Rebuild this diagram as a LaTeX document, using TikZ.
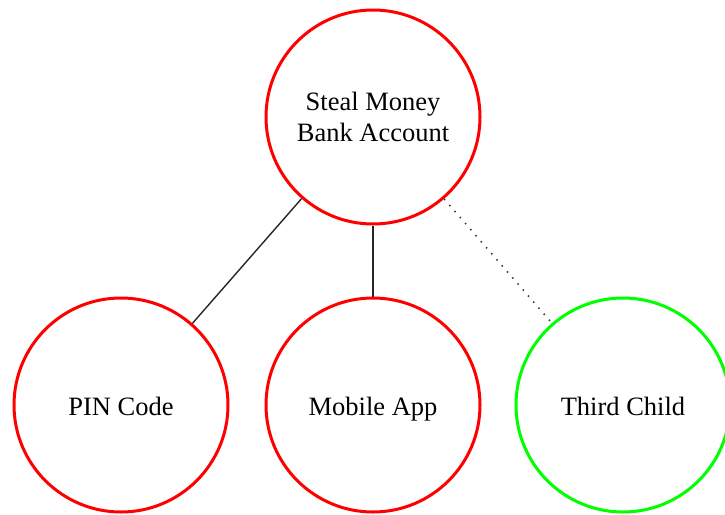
\documentclass[tikz,border=0pt]{standalone}
\usepackage{fontspec}
\setmainfont{Liberation Serif}
\begin{document}
\begin{tikzpicture}[x=1pt,y=-1pt,
  goal/.style={circle, draw=red, line width=3pt, minimum size=214pt, inner sep=0pt,
    align=center, font=\fontsize{26.5}{31}\selectfont},
  leaf/.style={goal, text height=24pt, text depth=3.6pt},
  okleaf/.style={leaf, draw=green},
  link/.style={line width=1.4pt, black!85},
  weaklink/.style={line width=1.6pt, black!80, dash pattern=on 1.4pt off 6.6pt}]
  \useasboundingbox (0,0) rectangle (725,514);
  \node[goal]   (root)   at (373,117) {Steal Money\\Bank Account};
  \node[leaf]   (pin)    at (121,405) {PIN Code};
  \node[leaf]   (app)    at (373,405) {Mobile App};
  \node[okleaf] (third)  at (623,405) {Third Child};
  \draw[link] (root) -- (pin);
  \draw[link] (root) -- (app);
  \draw[weaklink] (root) -- (third);
\end{tikzpicture}
\end{document}
